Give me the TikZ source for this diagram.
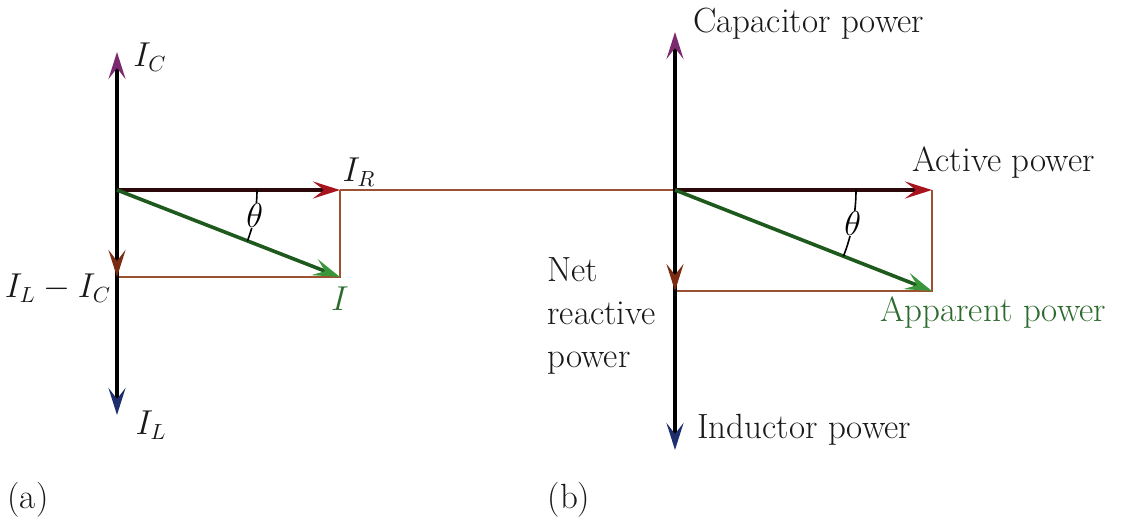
\documentclass[tikz,border=0pt]{standalone}
\usetikzlibrary{arrows.meta,calc}
\definecolor{capc}{HTML}{7B2A6F}
\definecolor{indc}{HTML}{1F2F6E}
\definecolor{actc}{HTML}{A8141E}
\definecolor{appc}{HTML}{3A963A}
\definecolor{appd}{HTML}{1E5A1E}
\definecolor{netc}{HTML}{7A2C12}
\definecolor{projc}{HTML}{9C5230}
\definecolor{txtg}{HTML}{2D6A2D}
\begin{document}
\begin{tikzpicture}[x=0.5pt, y=-0.5pt, font=\fontsize{16}{21}\selectfont,
  vec/.style={line width=1.8pt, -{Stealth[length=13.5pt, width=8.5pt, inset=5.5pt, color=#1]}},
  proj/.style={draw=projc, line width=0.7pt},
  lbl/.style={inner sep=1pt, text=black!90},
  word/.style={lbl, anchor=west, font=\fontsize{17.5}{21.5}\selectfont},
  ang/.style={line width=0.8pt},
  angl/.style={fill=white, inner sep=0.3pt}]
  \useasboundingbox (0,0) rectangle (1126,525);
  \coordinate (oa)  at (117,190);
  \coordinate (ic)  at (117,52);
  \coordinate (il)  at (117,415);
  \coordinate (net) at (117,277);
  \coordinate (ir)  at (340,190);
  \coordinate (i)   at (340,277);
  \coordinate (ob)  at (675,190);
  \coordinate (cap) at (675,32);
  \coordinate (ind) at (675,450);
  \coordinate (nrp) at (675,291);
  \coordinate (act) at (932,190);
  \coordinate (app) at (932,291);
  \draw[proj] (ir) -- (ob);
  \draw[proj] (net) -- (i) -- (ir);
  \draw[proj] (nrp) -- (app) -- (act);
  \draw[vec=capc] (oa) -- (ic);
  \draw[vec=indc] (oa) -- (il);
  \draw[vec=netc] (oa) -- (net);
  \draw[vec=actc, draw={rgb,255:red,45;green,8;blue,10}] (oa) -- (ir);
  \draw[vec=appc, draw=appd] (oa) -- (i);
  \draw[vec=capc] (ob) -- (cap);
  \draw[vec=indc] (ob) -- (ind);
  \draw[vec=netc] (ob) -- (nrp);
  \draw[vec=actc, draw={rgb,255:red,45;green,8;blue,10}] (ob) -- (act);
  \draw[vec=appc, draw=appd] (ob) -- (app);
  \draw[ang] ($(oa)+(140,0)$) arc[start angle=0, end angle=21.3, radius=140];
  \node[angl] (tha) at ($(oa)+(10.6:140)$) {$\theta$};
  \draw[ang] ($(ob)+(181,0)$) arc[start angle=0, end angle=21.5, radius=181];
  \node[angl] (thb) at ($(ob)+(10.7:181)$) {$\theta$};
  \node[lbl] (icl)  at (150,57)  {$I_C$};
  \node[lbl] (irl)  at (359,172) {$I_R$};
  \node[lbl] (netl) at (58,288)  {$I_L - I_C$};
  \node[lbl, text=txtg] (il2) at (340,299) {$I$};
  \node[lbl] (ill)  at (151,425) {$I_L$};
  \node[word] (capl) at (691,24)  {Capacitor power};
  \node[word] (actl) at (910,163) {Active power};
  \node[word, text=txtg] (appl) at (878,313) {Apparent power};
  \node[word] (indl) at (695,430) {Inductor power};
  \node[word, align=left] (nrpl) at (545,316) {Net\\reactive\\power};
  \node[word, anchor=center] (capa) at (28,500)  {(a)};
  \node[word, anchor=center] (capb) at (569,500) {(b)};
\end{tikzpicture}
\end{document}
